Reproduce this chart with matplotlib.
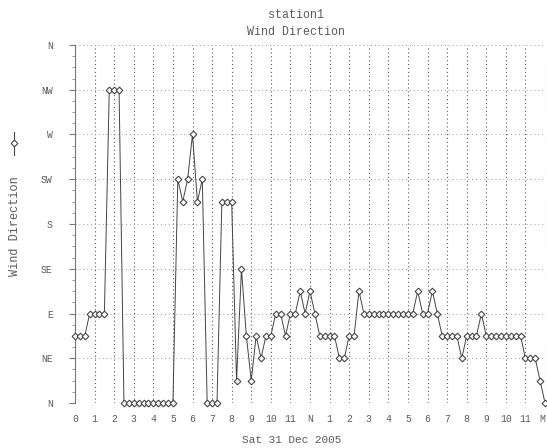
import matplotlib
matplotlib.use("Agg")
import matplotlib.pyplot as plt
from matplotlib.lines import Line2D
from matplotlib.ticker import MultipleLocator

# ---- data ----
hours = [i * 0.25 for i in range(97)]
direction = [
    67.5, 67.5, 67.5, 90, 90, 90, 90, 315, 315, 315,
    0, 0, 0, 0, 0, 0, 0, 0, 0, 0, 0,
    225, 202.5, 225, 270, 202.5, 225,
    0, 0, 0,
    202.5, 202.5, 202.5,
    22.5, 135, 67.5, 22.5, 67.5, 45, 67.5, 67.5,
    90, 90, 67.5, 90, 90, 112.5, 90, 112.5, 90,
    67.5, 67.5, 67.5, 67.5, 45, 45, 67.5, 67.5, 112.5,
    90, 90, 90, 90, 90, 90, 90, 90, 90, 90, 90,
    112.5, 90, 90, 112.5, 90,
    67.5, 67.5, 67.5, 67.5, 45, 67.5, 67.5, 67.5, 90,
    67.5, 67.5, 67.5, 67.5, 67.5, 67.5, 67.5, 67.5,
    45, 45, 45, 22.5, 0,
]
y_ticks = [0, 45, 90, 135, 180, 225, 270, 315, 360]
y_labels = ["N", "NE", "E", "SE", "S", "SW", "W", "NW", "N"]
x_ticks = list(range(25))
x_labels = ["0", "1", "2", "3", "4", "5", "6", "7", "8", "9", "10", "11", "N",
            "1", "2", "3", "4", "5", "6", "7", "8", "9", "10", "11", "M"]
title1 = "station1"
title2 = "Wind Direction"
x_title = "Sat 31 Dec 2005"
series_name = "Wind Direction"

FONT = "Liberation Mono"
TXT = "#5a5a5a"
LINE = "#444444"

W, H = 547, 448
fig = plt.figure(figsize=(W / 100, H / 100), dpi=100)
fig.patch.set_facecolor("white")
ax = fig.add_axes([75 / W, 1 - 403 / H, 470 / W, 358 / H])
ax.set_facecolor("white")

ax.plot(hours, direction, color=LINE, linewidth=0.7, marker="D",
        markersize=3.4, markerfacecolor="white", markeredgecolor=LINE,
        markeredgewidth=0.8, clip_on=False, zorder=3)

ax.set_xlim(0, 24)
ax.set_ylim(0, 360)
ax.set_xticks(x_ticks)
ax.set_xticklabels(x_labels, fontfamily=FONT, fontsize=7, color=TXT)
ax.get_xticklabels()[-1].set_horizontalalignment("right")
ax.set_yticks(y_ticks)
ax.set_yticklabels(y_labels, fontfamily=FONT, fontsize=7, color=TXT)
ax.yaxis.set_minor_locator(MultipleLocator(11.25))

for s in ["top", "right", "bottom"]:
    ax.spines[s].set_visible(False)
ax.spines["left"].set_color("#777777")
ax.spines["left"].set_linestyle((0, (2, 1)))
ax.spines["left"].set_linewidth(0.8)

ax.tick_params(axis="x", length=0, pad=8)
ax.tick_params(axis="y", which="major", length=4, color="#777777", pad=12)
ax.tick_params(axis="y", which="minor", length=2, color="#888888")

for x in x_ticks:
    ax.axvline(x, color="#555555", linewidth=0.8, linestyle=(0, (1, 2.5)), zorder=1)
for y in y_ticks:
    ax.axhline(y, color="#999999", linewidth=0.7, linestyle=(0, (1, 3)), zorder=1)

fig.text(296 / W, 1 - 15 / H, title1, ha="center", va="center",
         fontfamily=FONT, fontsize=8.4, color=TXT)
fig.text(296 / W, 1 - 32 / H, title2, ha="center", va="center",
         fontfamily=FONT, fontsize=8.4, color=TXT)
fig.text(292 / W, 1 - 440 / H, x_title, ha="center", va="center",
         fontfamily=FONT, fontsize=8, color=TXT)
fig.text(15 / W, 1 - 226 / H, series_name, ha="center", va="center",
         rotation=90, fontfamily=FONT, fontsize=8.6, color=TXT)

# legend glyph for the series
fig.add_artist(Line2D([14 / W, 14 / W], [1 - 132 / H, 1 - 155 / H],
                      transform=fig.transFigure, color=LINE, linewidth=0.8))
fig.add_artist(Line2D([14 / W], [1 - 143 / H], transform=fig.transFigure,
                      marker="D", markersize=3.4, markerfacecolor="white",
                      markeredgecolor=LINE, markeredgewidth=0.8, linestyle="none"))

fig.savefig("out.png", dpi=100, facecolor="white")
